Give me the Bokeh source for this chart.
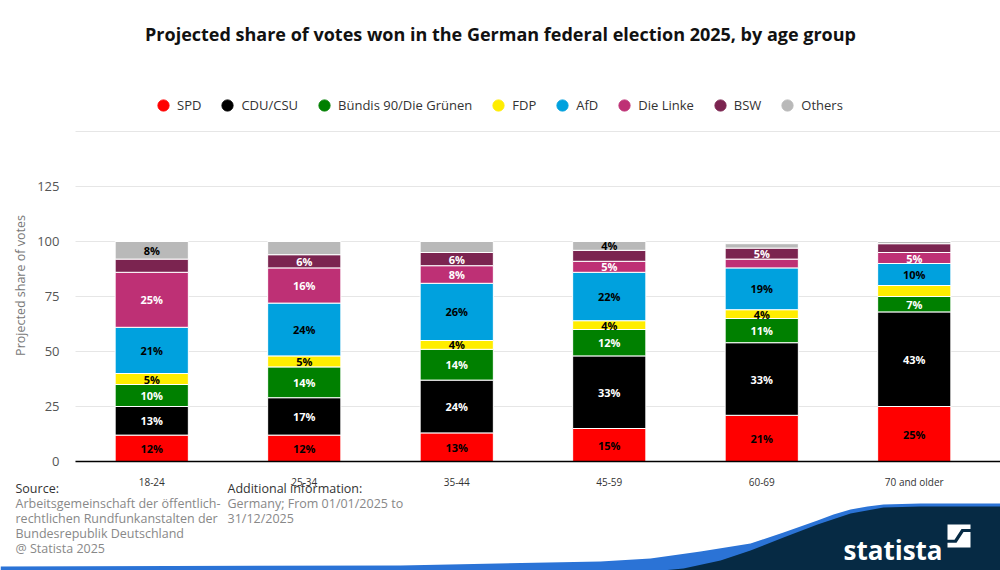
import numpy as np
from bokeh.plotting import figure
from bokeh.models import ColumnDataSource, Legend, LegendItem, FixedTicker, Range1d
from bokeh.core.properties import value
from bokeh.embed import file_html
from bokeh.resources import INLINE

# ---------------- data ----------------
age_groups = ["18-24", "25-34", "35-44", "45-59", "60-69", "70 and older"]
parties = ["SPD", "CDU/CSU", "Bündis 90/Die Grünen", "FDP", "AfD", "Die Linke", "BSW", "Others"]
spd = [12, 12, 13, 15, 21, 25]
cdu = [13, 17, 24, 33, 33, 43]
gruene = [10, 14, 14, 12, 11, 7]
fdp = [5, 5, 4, 4, 4, 5]
afd = [21, 24, 26, 22, 19, 10]
linke = [25, 16, 8, 5, 4, 5]
bsw = [6, 6, 6, 5, 5, 4]
others = [8, 6, 5, 4, 2, 1]
# value labels that the original shows (1 = shown)
labels_shown = {
    "SPD":                  [1, 1, 1, 1, 1, 1],
    "CDU/CSU":              [1, 1, 1, 1, 1, 1],
    "Bündis 90/Die Grünen": [1, 1, 1, 1, 1, 1],
    "FDP":                  [1, 1, 1, 1, 1, 0],
    "AfD":                  [1, 1, 1, 1, 1, 1],
    "Die Linke":            [1, 1, 1, 1, 0, 1],
    "BSW":                  [0, 1, 1, 0, 1, 0],
    "Others":               [1, 0, 0, 1, 0, 0],
}
y_label_ticks = [0, 25, 50, 75, 100, 125]
y_grid_ticks = [0, 25, 50, 75, 100, 125, 150]

title_text = "Projected share of votes won in the German federal election 2025, by age group"
y_title = "Projected share of votes"
source_lines = ["Arbeitsgemeinschaft der öffentlich-", "rechtlichen Rundfunkanstalten der",
                "Bundesrepublik Deutschland", "@ Statista 2025"]
info_lines = ["Germany; From 01/01/2025 to", "31/12/2025"]

colors = ["#ff0000", "#000000", "#008000", "#ffed00", "#00a1de", "#be3075", "#7b2450", "#b9b9b9"]
label_colors = ["#000000", "#ffffff", "#ffffff", "#000000", "#000000", "#ffffff", "#ffffff", "#000000"]
FONT = "Open Sans"

# ---------------- geometry (page pixels -> data units) ----------------
W, H = 1000, 570
OX, OY = 0, 0          # where the canvas sits on the page


def px(X):
    return (X - 75) / 152.5


def py(Y):
    return (461 - Y) / 2.2


p = figure(x_range=Range1d(px(OX), px(OX + W)), y_range=Range1d(py(OY + H), py(OY)),
           width=W, height=H, output_backend="svg", toolbar_location=None,
           min_border=0, outline_line_color=None)
p.title.visible = False

# decorative wave (drawn first, underneath)
blue_top = [(0, 566), (400, 565), (600, 561), (650, 558), (700, 551), (750, 543), (783, 532),
            (817, 520), (833, 514), (850, 509), (867, 506), (883, 504), (920, 503), (1000, 503)]
navy_top = [(640, 572), (683, 568), (720, 560), (750, 550), (783, 537), (817, 524),
            (850, 513), (883, 507), (920, 506), (1000, 506)]
p.patch([px(a) for a, b in blue_top] + [px(1000), px(0)],
        [py(b) for a, b in blue_top] + [py(575), py(575)], fill_color="#2b73d6", line_color=None)
p.patch([px(a) for a, b in navy_top] + [px(1000)],
        [py(b) for a, b in navy_top] + [py(575)], fill_color="#062a44", line_color=None)

# grid lines
p.xgrid.visible = False
p.ygrid.visible = False
p.segment(x0=0, x1=px(1000), y0=y_grid_ticks, y1=y_grid_ticks, line_color="#e6e6e6", line_width=1)

# bars
xpos = list(np.arange(len(age_groups)) + 0.5)
data = {"x": xpos}
series = [spd, cdu, gruene, fdp, afd, linke, bsw, others]
for name, vals in zip(parties, series):
    data[name] = vals
source = ColumnDataSource(data)
p.vbar_stack(parties, x="x", width=0.48, color=colors, source=source,
             line_color="white", line_width=1)

# value labels
arr = np.array(series, dtype=float)
cum = np.cumsum(arr, axis=0)
mid = cum - arr / 2
lx, ly, lt, lc = [], [], [], []
for i, name in enumerate(parties):
    for j in range(len(age_groups)):
        if labels_shown[name][j]:
            lx.append(xpos[j])
            ly.append(mid[i, j])
            lt.append(f"{int(arr[i, j])}%")
            lc.append(label_colors[i])
p.text(x="x", y="y", text="t", text_color="c",
       source=ColumnDataSource(dict(x=lx, y=ly, t=lt, c=lc)),
       text_align="center", text_baseline="middle", text_font=value(FONT),
       text_font_size="11px", text_font_style="bold")

# axes drawn inside the frame
p.yaxis.fixed_location = 0
p.yaxis.ticker = FixedTicker(ticks=y_label_ticks)
p.yaxis.axis_line_color = None
p.yaxis.major_tick_line_color = None
p.yaxis.minor_tick_line_color = None
p.yaxis.major_label_standoff = 10
p.yaxis.major_label_text_font = FONT
p.yaxis.major_label_text_font_size = "13px"
p.yaxis.major_label_text_color = "#555555"
p.yaxis.axis_label = y_title
p.yaxis.axis_label_text_font = FONT
p.yaxis.axis_label_text_font_style = "normal"
p.yaxis.axis_label_text_font_size = "12.5px"
p.yaxis.axis_label_text_color = "#777777"
p.yaxis.axis_label_standoff = 5

p.xaxis.fixed_location = 0
p.xaxis.bounds = (0, px(1000))
p.xaxis.ticker = FixedTicker(ticks=xpos)
p.xaxis.major_label_overrides = {float(x): g for x, g in zip(xpos, age_groups)}
p.xaxis.axis_line_color = "#000000"
p.xaxis.axis_line_width = 1.5
p.xaxis.major_tick_line_color = None
p.xaxis.minor_tick_line_color = None
p.xaxis.major_label_standoff = 7
p.xaxis.major_label_text_font = FONT
p.xaxis.major_label_text_font_size = "10px"
p.xaxis.major_label_text_color = "#333333"

# legend (each swatch renderer holds a single non-drawn point)
items = []
for name, c in zip(parties, colors):
    r = p.scatter(x=[np.nan], y=[np.nan], marker="circle", size=12, fill_color=c, line_color=c)
    items.append(LegendItem(label=name, renderers=[r]))
legend = Legend(items=items, orientation="horizontal",
                location=(149 - OX, H - (119 - OY)),
                border_line_color=None, background_fill_alpha=0, padding=0, margin=0,
                label_text_font=FONT, label_text_font_size="13px", label_text_color="#333333",
                glyph_width=28, glyph_height=28, label_standoff=0, spacing=12, label_height=28)
p.add_layout(legend)


def txt(t, X, Y, size, color, style="normal", align="left", baseline="middle"):
    p.text(x=[px(X)], y=[py(Y)], text=[t], text_font=value(FONT), text_font_size=size,
           text_color=color, text_font_style=style, text_align=align, text_baseline=baseline)


txt(title_text, 500, 33, "18px", "#111111", "bold", "center")
txt("Source:", 15, 488, "12.5px", "#333333")
for k, line in enumerate(source_lines):
    txt(line, 15, 503 + 15 * k, "12.5px", "#888888")
txt("Additional information:", 227, 488, "12.5px", "#333333")
for k, line in enumerate(info_lines):
    txt(line, 227, 503 + 15 * k, "12.5px", "#888888")

# statista logo
txt("statista", 843, 549, "26px", "white", "bold", "left", "alphabetic")
iconA = [(947, 524), (970, 524), (970, 528.5), (961, 528.5), (954, 539.2), (947, 539.2)]
iconB = [(947, 547), (970, 547), (970, 531.5), (963, 531.5), (956, 542.2), (947, 542.2)]
p.patches([[px(a) for a, b in poly] for poly in (iconA, iconB)],
          [[py(b) for a, b in poly] for poly in (iconA, iconB)],
          fill_color="white", line_color=None)

open("out.html", "w").write(file_html(p, INLINE))
